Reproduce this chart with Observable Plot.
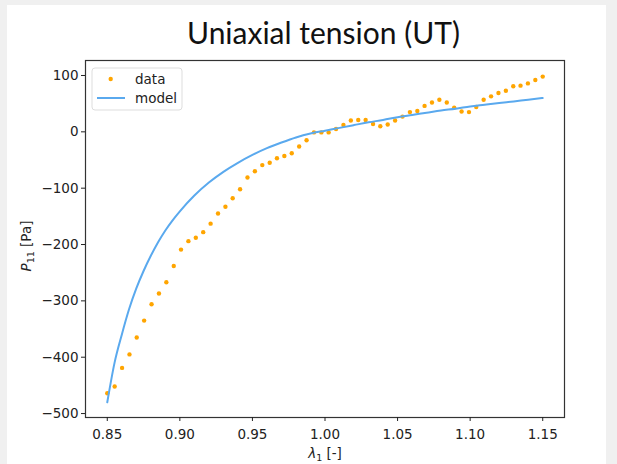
<!DOCTYPE html>
<html>
<head>
<meta charset="utf-8">
<script src="https://cdn.jsdelivr.net/npm/d3@7"></script>
<script src="https://cdn.jsdelivr.net/npm/@observablehq/plot@0.6"></script>
<style>
  html, body { margin: 0; padding: 0; background: #f0f0f0; }
  #page { position: relative; width: 617px; height: 464px; overflow: hidden; }
  #panel { position: absolute; left: 7px; top: 5px; width: 599px; height: 459px; background: #fff; }
  #title { position: absolute; left: 0; top: 14px; width: 647px; text-align: center;
           font-family: Lato, "Open Sans", sans-serif; font-size: 30px; color: #111; }
  #chart { position: absolute; left: 0; top: 55px; }
</style>
</head>
<body>
<div id="page">
  <div id="panel"></div>
  <div id="title">Uniaxial tension (UT)</div>
  <div id="chart"></div>
</div>
<script>
// measured stretch values (60 samples between 0.85 and 1.15)
const dataX = [0.8500,0.8551,0.8602,0.8653,0.8703,0.8754,0.8805,0.8856,0.8907,0.8958,
               0.9008,0.9059,0.9110,0.9161,0.9212,0.9263,0.9314,0.9364,0.9415,0.9466,
               0.9517,0.9568,0.9619,0.9669,0.9720,0.9771,0.9822,0.9873,0.9924,0.9975,
               1.0025,1.0076,1.0127,1.0178,1.0229,1.0280,1.0331,1.0381,1.0432,1.0483,
               1.0534,1.0585,1.0636,1.0686,1.0737,1.0788,1.0839,1.0890,1.0941,1.0992,
               1.1042,1.1093,1.1144,1.1195,1.1246,1.1297,1.1347,1.1398,1.1449,1.1500];
const dataP = [-464,-452,-419,-395,-365,-335,-306,-287,-267,-238,
               -209,-194,-188,-178,-163,-145,-133,-118,-102,-81,
               -70,-59,-55,-47,-43,-38,-26,-15,-1,-1,
               -1,5,12,20,21,21,14,10,13,20,
               27,35,37,46,52,57,52,43,36,35,
               44,57,63,69,73,81,82,86,92,98];
// model curve
const modelX = [0.850,0.855,0.860,0.865,0.870,0.875,0.880,0.885,0.890,0.895,0.900,
                0.910,0.920,0.930,0.940,0.950,0.960,0.970,0.980,0.990,1.000,
                1.010,1.020,1.030,1.040,1.050,1.060,1.070,1.080,1.090,1.100,
                1.110,1.120,1.130,1.140,1.150];
const modelP = [-480,-410,-360,-315,-278,-247,-220,-196,-175,-157,-141,
                -113,-90,-71,-55,-41,-29,-19,-10,-3,2,
                7,12,17,21,26,30,34,38,41,45,
                48,51,54,57,60];
const xTicks = [0.85,0.90,0.95,1.00,1.05,1.10,1.15];
const yTicks = [-500,-400,-300,-200,-100,0,100];

const data = dataX.map((x,i)=>({x, y: dataP[i]}));
const model = modelX.map((x,i)=>({x, y: modelP[i]}));

const plot = Plot.plot({
  width: 617, height: 409,
  marginLeft: 85, marginRight: 53, marginTop: 5, marginBottom: 47,
  style: {fontFamily: "DejaVu Sans", fontSize: "13.5px", color: "#222", background: "transparent", overflow: "visible"},
  x: {domain: [0.835, 1.165]},
  y: {domain: [-507, 126.6]},
  marks: [
    Plot.dot(data, {x: "x", y: "y", r: 2.2, fill: "#FFA500", stroke: "none"}),
    Plot.line(model, {x: "x", y: "y", stroke: "#5aa9ee", strokeWidth: 2, curve: "monotone-x"}),
    Plot.frame({stroke: "#333", strokeWidth: 1.2}),
    Plot.axisX({ticks: xTicks, tickFormat: d3.format(".2f"), tickSize: 4, tickPadding: 8, label: null}),
    Plot.axisY({ticks: yTicks, tickSize: 4, tickPadding: 3, label: null})
  ]
});
document.getElementById("chart").appendChild(plot);

const svg = d3.select(plot);
// y label
const yl = svg.append("text")
  .attr("transform", "translate(31,191) rotate(-90)")
  .attr("text-anchor", "middle")
  .attr("font-family", "DejaVu Sans").attr("font-size", 13.5).attr("fill", "#222");
yl.append("tspan").attr("font-style", "italic").text("P");
yl.append("tspan").attr("font-size", 9.5).attr("dy", 3).text("11");
yl.append("tspan").attr("dy", -3).text(" [Pa]");
// x label
const xl = svg.append("text")
  .attr("x", 325).attr("y", 403)
  .attr("text-anchor", "middle")
  .attr("font-family", "DejaVu Sans").attr("font-size", 13.5).attr("fill", "#222");
xl.append("tspan").attr("font-style", "italic").text("λ");
xl.append("tspan").attr("font-size", 9.5).attr("dy", 3).text("1");
xl.append("tspan").attr("dy", -3).text(" [-]");
// legend
const lg = svg.append("g").attr("text-anchor", "start");
lg.append("rect").attr("x", 92).attr("y", 13).attr("width", 90).attr("height", 42)
  .attr("rx", 3).attr("fill", "#fff").attr("fill-opacity", 0.8).attr("stroke", "#ddd");
lg.append("circle").attr("cx", 110.7).attr("cy", 24).attr("r", 2.2).attr("fill", "#FFA500");
lg.append("line").attr("x1", 97).attr("x2", 125).attr("y1", 43).attr("y2", 43)
  .attr("stroke", "#5aa9ee").attr("stroke-width", 2);
lg.append("text").attr("x", 135).attr("y", 24).attr("dy", "0.35em").attr("text-anchor", "start")
  .attr("font-family", "DejaVu Sans").attr("font-size", 13.5).attr("fill", "#222").text("data");
lg.append("text").attr("x", 135).attr("y", 43).attr("dy", "0.35em").attr("text-anchor", "start")
  .attr("font-family", "DejaVu Sans").attr("font-size", 13.5).attr("fill", "#222").text("model");
</script>
</body>
</html>
